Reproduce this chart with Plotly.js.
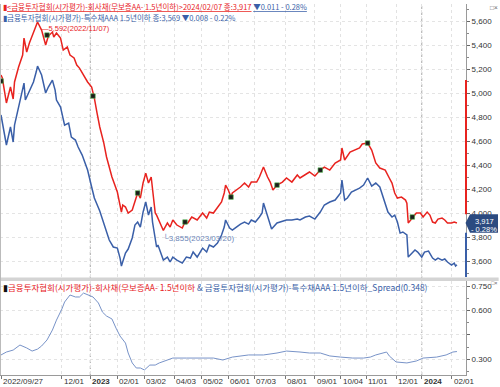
<!DOCTYPE html>
<html><head><meta charset="utf-8">
<script src="https://cdn.plot.ly/plotly-3.0.1.min.js"></script>
<style>html,body{margin:0;padding:0;background:#fff;}#chart{width:500px;height:387px;}</style>
</head><body><div id="chart"></div>
<script>
// x values are trading-day indices counted from 2022/09/27 (= 0) to 2024/02/07 (= 337)
const redIdx = [0,1,4,7,9,10,13,16,17,19,
  21,24,26,27,30,33,35,38,39,41,
  44,46,49,51,54,56,58,61,64,67,
  69,71,73,76,78,82,84,86,89,90,
  92,94,97,99,101,103,105,107,109,111,
  112,114,115,117,120,123,125,127,130,134,
  136,138,141,145,149,152,154,157,160,163,
  165,166,168,170,171,174,177,180,183,185,
  189,191,194,197,199,201,204,208,211,215,
  219,221,225,228,232,236,239,243,247,251,
  252,254,258,262,265,267,271,274,277,280,
  284,287,289,291,293,296,299,300,301,304,
  307,310,312,315,317,319,321,323,326,328,
  330,333,335,337];
const redVal = [5150,5125,4917,5050,4950,5092,5217,5317,5458,5342,
  5417,5500,5567,5592,5525,5400,5475,5508,5467,5500,
  5458,5358,5383,5317,5292,5233,5208,5150,5092,5050,
  4958,4833,4717,4583,4467,4300,4233,4175,4008,4067,
  4050,4000,4025,4092,4167,4125,4250,4333,4250,4300,
  4192,4000,3983,3925,3855,3917,3883,3942,3900,3875,
  3925,3917,3967,3942,4000,3958,4008,4000,4050,4092,
  4167,4233,4192,4133,4167,4192,4217,4250,4217,4258,
  4258,4300,4383,4300,4258,4192,4233,4258,4292,4258,
  4317,4292,4317,4342,4308,4358,4383,4358,4417,4442,
  4542,4442,4508,4525,4542,4575,4583,4525,4417,4375,
  4358,4292,4250,4167,4125,4133,4108,4083,3917,3958,
  4000,4000,3967,4008,3983,3925,3917,3950,3958,3942,
  3917,3917,3925,3917];

const blueIdx = [0,1,4,7,9,10,13,16,17,18,
  21,24,26,27,30,33,35,38,40,41,
  44,47,50,52,55,57,60,64,67,69,
  73,77,80,83,86,88,89,92,94,97,
  99,101,103,105,107,109,111,112,115,116,
  118,120,123,125,127,130,134,137,140,142,
  145,149,152,154,157,160,162,163,165,166,
  169,171,174,177,180,183,185,188,191,193,
  194,197,200,204,208,211,215,219,221,225,
  228,232,236,239,243,247,251,252,254,256,
  259,262,265,268,271,274,277,280,284,286,
  289,291,293,295,297,300,301,304,306,308,
  311,313,316,319,321,323,326,328,330,333,
  335,336,337];
const blueVal = [4817,4750,4567,4717,4592,4733,4883,5025,5083,4942,
  5025,5092,5175,5225,5150,5000,5050,5108,5025,4942,
  4883,4733,4750,4633,4608,4550,4483,4358,4217,4125,
  4017,3883,3775,3717,3708,3625,3558,3667,3700,3792,
  3900,3925,3883,4008,4092,3983,4050,3925,3717,3733,
  3675,3608,3633,3592,3633,3608,3583,3633,3625,3675,
  3633,3708,3675,3733,3717,3750,3792,3817,3883,3942,
  3875,3858,3883,3908,3925,3908,3942,3925,3967,4000,
  4083,3967,3867,3917,3933,3942,3942,3950,3942,3967,
  3975,3950,4008,4067,4092,4108,4167,4275,4108,4125,
  4175,4192,4208,4233,4292,4225,4250,4217,4067,4008,
  3967,3983,3925,3833,3842,3817,3633,3667,3692,3675,
  3633,3675,3683,3625,3608,3625,3608,3617,3592,3567,
  3583,3558,3569];

const spreadIdx = [0,4,9,14,19,23,27,30,34,38,
  41,44,45,47,51,55,58,61,64,68,
  72,75,78,82,85,88,92,94,97,100,
  103,106,110,114,117,123,127,137,147,157,
  164,171,183,194,204,211,221,228,236,243,
  251,260,268,273,277,282,285,287,292,300,
  307,312,322,329,334,337];
const spreadVal = [0.327,0.345,0.357,0.388,0.370,0.351,0.363,0.382,0.419,0.480,
  0.541,0.590,0.609,0.652,0.695,0.683,0.683,0.707,0.695,0.683,
  0.646,0.590,0.566,0.548,0.492,0.443,0.400,0.339,0.278,0.247,
  0.247,0.235,0.265,0.265,0.278,0.296,0.308,0.308,0.308,0.308,
  0.296,0.314,0.327,0.327,0.339,0.351,0.345,0.339,0.339,0.321,
  0.314,0.308,0.308,0.314,0.327,0.339,0.345,0.321,0.284,0.278,
  0.290,0.308,0.314,0.327,0.345,0.348];

const markIdx = [0,34,68,101,136,170,204,236,271,304];
const markVal = [5100,5483,4975,4167,3925,4133,4233,4358,4583,3967];

const tickIdx = [0,45,66,86,106,128,148,168,187,210,232,251,270,292,311,333];
const tickText = ['2022/09/27','12/01','<b>2023</b>','02/01','03/02','04/03','05/02','06/01','07/03','08/01','09/01','10/04','11/01','12/01','<b>2024</b>','02/01'];
const yearIdx = [66,311];

const mainTicks = [3600,3800,4000,4200,4400,4600,4800,5000,5200,5400,5600];
const spreadTicks = [0.3,0.45,0.6,0.75];
const spreadTickText = ['0.300','','0.600','0.750'];

const peak = {idx:27, val:5592, label:'—5,592(2022/11/07)'};
const low = {idx:120, val:3855, label:'└3,855(2023/03/20)'};
const last = {val:3917, price:'3,917', change:'- 0.28%'};

const RED = '#e8231f', BLUE = '#3a5fa8', SPREAD = '#7893c8';
const NUM = 'Liberation Sans, Arial, sans-serif';
const KR = 'Noto Sans CJK KR, sans-serif';

const W = 500, H = 387, mT = 4, mB = 12, mR = 34;
const plotH = H - mT - mB;
const py = px => (H - mB - px) / plotH;   // pixel row -> paper y

const traces = [
  {x: redIdx, y: redVal, type: 'scatter', mode: 'lines', line: {color: RED, width: 1.5}, xaxis: 'x', yaxis: 'y'},
  {x: blueIdx, y: blueVal, type: 'scatter', mode: 'lines', line: {color: BLUE, width: 1.5}, xaxis: 'x', yaxis: 'y'},
  {x: markIdx, y: markVal, type: 'scatter', mode: 'markers', marker: {symbol: 'square', size: 4.5, color: '#1c1c1c', line: {color: '#4cb84c', width: 0.6}}, xaxis: 'x', yaxis: 'y'},
  {x: spreadIdx, y: spreadVal, type: 'scatter', mode: 'lines', line: {color: SPREAD, width: 1}, xaxis: 'x2', yaxis: 'y2'}
];

const xr = [-0.74, 343.7];
const layout = {
  width: W, height: H,
  margin: {l: 0, r: mR, t: mT, b: mB, pad: 0},
  paper_bgcolor: '#fff', plot_bgcolor: '#fff',
  showlegend: false, hovermode: false,
  xaxis: {domain: [0, 1], range: xr, anchor: 'y', tickmode: 'array', tickvals: tickIdx, showticklabels: false, ticks: '',
    showgrid: true, gridcolor: '#e2e2e2', griddash: 'dot', zeroline: false, showline: false},
  xaxis2: {domain: [0, 1], range: xr, anchor: 'y2', matches: 'x', tickmode: 'array', tickvals: tickIdx, showticklabels: false,
    ticks: 'outside', ticklen: 3, tickcolor: '#777', showgrid: true, gridcolor: '#e2e2e2', griddash: 'dot', zeroline: false,
    showline: true, linecolor: '#9a9a9a', linewidth: 1},
  yaxis: {domain: [py(277), 1], range: [3467, 5742], side: 'right', anchor: 'x', tickmode: 'array', tickvals: mainTicks,
    tickformat: ',d', ticks: 'outside', ticklen: 3, tickcolor: '#666', tickfont: {family: NUM, size: 8, color: '#333'},
    minor: {tickmode: 'linear', tick0: 3500, dtick: 100, ticks: 'outside', ticklen: 2, tickcolor: '#888', showgrid: false},
    showgrid: true, gridcolor: '#e4e4e4', griddash: 'dot', zeroline: false, showline: true, linecolor: '#9a9a9a', linewidth: 1},
  yaxis2: {domain: [0, py(281)], range: [0.204, 0.781], side: 'right', anchor: 'x2', tickmode: 'array', tickvals: spreadTicks,
    ticktext: spreadTickText, ticks: 'outside', ticklen: 3, tickcolor: '#666', tickfont: {family: NUM, size: 8, color: '#333'},
    minor: {tickmode: 'linear', tick0: 0.225, dtick: 0.075, ticks: 'outside', ticklen: 2, tickcolor: '#888', showgrid: false},
    showgrid: true, gridcolor: '#e4e4e4', griddash: 'dot', zeroline: false, showline: true, linecolor: '#9a9a9a', linewidth: 1},
  shapes: [
    {type: 'rect', xref: 'paper', yref: 'paper', x0: 0, x1: 1.07, y0: py(281), y1: py(277.5), fillcolor: '#d4d4d4', line: {width: 0}, layer: 'above'},
    {type: 'line', xref: 'paper', yref: 'paper', x0: 0.001, x1: 0.001, y0: 0, y1: 1, line: {color: '#b8b8b8', width: 1}},
    {type: 'line', xref: 'paper', yref: 'y', x0: 1, x1: 1, y0: 5108, y1: 3990, line: {color: RED, width: 2}},
    {type: 'line', xref: 'paper', yref: 'y', x0: 1, x1: 1, y0: 3835, y1: 3467, line: {color: BLUE, width: 2}},
    {type: 'path', xref: 'paper', yref: 'y', path: 'M 0.999 ' + last.val + ' L 1.0086 3990 L 1.0687 3990 L 1.0687 3835 L 1.0086 3835 Z',
      fillcolor: '#2b4a80', line: {width: 0}, layer: 'above'}
  ].concat(yearIdx.map(v => ({type: 'line', xref: 'x', yref: 'paper', x0: v, x1: v, y0: 0, y1: 1,
      line: {color: '#a8a8a8', width: 1, dash: 'dot'}, layer: 'below'}))),
  annotations: [
    {xref: 'paper', yref: 'paper', x: 0.002, y: py(6.5), xanchor: 'left', yanchor: 'middle', showarrow: false,
      font: {family: KR, size: 7.5, color: RED},
      text: '▮<u>&lt;금융투자협회(시가평가)-회사채(무보증AA- 1.5년이하)&gt;2024/02/07 종:3,917</u> <span style="color:' + BLUE + '"><u>▼0.011 - 0.28%</u></span>'},
    {xref: 'paper', yref: 'paper', x: 0.002, y: py(17.5), xanchor: 'left', yanchor: 'middle', showarrow: false,
      font: {family: KR, size: 7.5, color: BLUE},
      text: '▮금융투자협회(시가평가)-특수채AAA 1.5년이하 종:3,569 ▼0.008 - 0.22%'},
    {xref: 'paper', yref: 'paper', x: 0.002, y: py(287), xanchor: 'left', yanchor: 'middle', showarrow: false,
      font: {family: KR, size: 8.5, color: RED},
      text: '<span style="color:#111">▮</span>금융투자협회(시가평가)-회사채(무보증AA- 1.5년이하 <span style="color:' + BLUE + '">&amp; 금융투자협회(시가평가)-특수채AAA 1.5년이하_Spread(0.348)</span>'},
    {xref: 'x', yref: 'y', x: peak.idx, y: peak.val, xanchor: 'left', yanchor: 'middle', xshift: 1, yshift: -6, showarrow: false,
      font: {family: NUM, size: 7.5, color: RED}, text: peak.label},
    {xref: 'x', yref: 'y', x: low.idx, y: low.val, xanchor: 'left', yanchor: 'top', xshift: -2, yshift: -1, showarrow: false,
      font: {family: NUM, size: 8, color: '#6d86b8'}, text: low.label},
    {xref: 'paper', yref: 'paper', x: 1.039, y: py(221.5), xanchor: 'center', yanchor: 'middle', showarrow: false,
      font: {family: NUM, size: 7.5, color: '#fff'}, text: last.price},
    {xref: 'paper', yref: 'paper', x: 1.039, y: py(229.5), xanchor: 'center', yanchor: 'middle', showarrow: false,
      font: {family: NUM, size: 7.5, color: '#fff'}, text: last.change},
    {xref: 'paper', yref: 'paper', x: 1.072, y: py(7), xanchor: 'right', yanchor: 'middle', showarrow: false,
      font: {family: NUM, size: 6.5, color: '#666'}, text: '□×'},
    {xref: 'paper', yref: 'paper', x: 1.0735, y: py(283), xanchor: 'right', yanchor: 'middle', showarrow: false,
      font: {family: NUM, size: 5.5, color: '#666'}, text: '□×'}
  ].concat(tickIdx.map((v, i) => ({xref: 'x2', yref: 'paper', x: v, y: py(381), xanchor: 'left', yanchor: 'middle',
      xshift: 0, showarrow: false, font: {family: NUM, size: 8, color: '#333'}, text: tickText[i]})))
};

Plotly.newPlot('chart', traces, layout, {displayModeBar: false, staticPlot: true});
</script></body></html>
